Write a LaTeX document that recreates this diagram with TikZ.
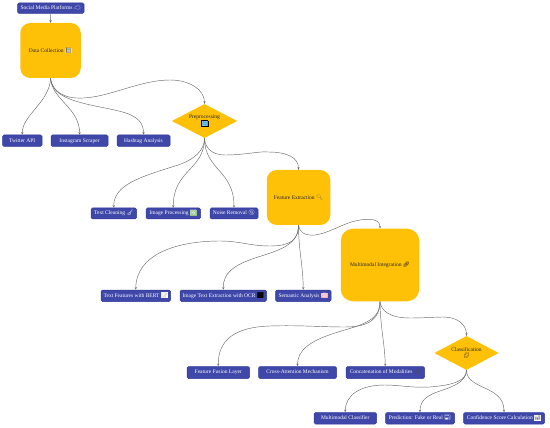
\documentclass[tikz,border=0pt]{standalone}
\usepackage{fontspec}
\setmainfont{Liberation Serif}
\newfontfamily\emo{Noto Emoji}
\usetikzlibrary{shapes.geometric,arrows.meta}
\definecolor{nodeblue}{HTML}{3F47A8}
\definecolor{nodeedge}{HTML}{2F3A9A}
\definecolor{amberfill}{HTML}{FFC107}
\definecolor{wirecol}{HTML}{6A6A6A}
\definecolor{icontan}{HTML}{E8D9B0}
\definecolor{iconblue}{HTML}{2E9BE0}
\definecolor{iconpink}{HTML}{F4A6B8}
\definecolor{icongreen}{HTML}{8FBF8A}
\tikzset{
 x=1pt,y=-1pt,
 leaf/.style={draw=nodeedge,line width=.5pt,fill=nodeblue,rounded corners=1.5pt,text=white,font=\fontsize{5.5}{6}\selectfont,inner sep=0pt,anchor=center,text height=3.9pt,text depth=1.2pt},
 big/.style={fill=amberfill,rounded corners=10pt,font=\fontsize{5.5}{6.5}\selectfont,text=black!85,inner sep=0pt,anchor=center},
 dia/.style={diamond,fill=amberfill,aspect=1.9,font=\fontsize{5.5}{6.5}\selectfont,text=black!85,inner sep=0pt,anchor=center,align=center},
 wire/.style={draw=wirecol,line width=.45pt,-{Stealth[length=2.6pt,width=2.4pt,open]}},
}
\newcommand{\leafnode}[6]{\node[leaf,minimum width=#4-#3,minimum height=#6-#5] (#1) at ({(#3+#4)/2},{(#5+#6)/2}) {#2};}
\newcommand{\mo}[2]{{\emo\color{#1}#2}}
\newcommand{\ic}[3]{{\setlength{\fboxsep}{0pt}\colorbox{#1}{\emo\color{#2}#3}}}
\newcommand{\icb}[3]{{\setlength{\fboxsep}{0pt}\setlength{\fboxrule}{.4pt}\fcolorbox{black}{#1}{\emo\color{#2}#3}}}
\begin{document}
\begin{tikzpicture}
\useasboundingbox (0,0) rectangle (550,428);
\leafnode{social}{Social Media Platforms \mo{white}{☁}}{17.5}{84}{3}{13.5}
\node[big,minimum width=60.5pt,minimum height=55pt] (data) at (50.5,50.5) {Data Collection \ic{icontan}{black!60}{📘}};
\leafnode{tw}{Twitter API}{2.5}{42}{135}{146.5}
\leafnode{ig}{Instagram Scraper}{51}{108}{135}{146.5}
\leafnode{ha}{Hashtag Analysis}{117}{170}{135}{146.5}
\node[dia,minimum width=65.5pt,minimum height=34pt] (pre) at (204.5,121) {Preprocessing\\[0pt]\icb{iconblue}{white!40!iconblue}{🔄}};
\leafnode{tc}{Text Cleaning \mo{white}{🧹}}{91}{136.5}{208}{219}
\leafnode{ip}{Image Processing \ic{icongreen}{white}{🖼}}{146}{200.5}{208}{219}
\leafnode{nr}{Noise Removal \mo{white}{🔇}}{210}{258}{208}{219}
\node[big,minimum width=63.5pt,minimum height=55pt] (fe) at (298.5,197.5) {Feature Extraction \mo{black!60}{🔍}};
\leafnode{tf}{Text Features with BERT \ic{white}{black!30}{📝}}{101}{170.5}{290}{301.5}
\leafnode{it}{Image Text Extraction with OCR \ic{black!80}{black}{🔠}}{180}{266.5}{290}{301.5}
\leafnode{sa}{Semantic Analysis \ic{iconpink}{white}{🧠}}{275.5}{331}{290}{301.5}
\node[big,minimum width=78.5pt,minimum height=72.5pt,rounded corners=12pt] (mm) at (380,265) {Multimodal Integration \mo{black}{🔗}};
\node[dia,minimum width=64.5pt,minimum height=34pt] (cl) at (466.5,353) {Classification\\[-.5pt]\mo{black}{🧩}};
\leafnode{ff}{Feature Fusion Layer}{187}{249.5}{366.5}{378.5}
\leafnode{ca}{Cross-Attention Mechanism}{258.5}{336.5}{366.5}{378.5}
\leafnode{co}{Concatenation of Modalities \mo{black!70}{🔗}}{346}{424.5}{366.5}{378.5}
\leafnode{mc}{Multimodal Classifier}{314}{376.5}{412.5}{424}
\leafnode{pr}{Prediction: Fake or Real \mo{white}{📰}}{385.5}{454.5}{412.5}{424}
\leafnode{cs}{Confidence Score Calculation \ic{white}{black!50}{📊}}{463.5}{544.5}{412.5}{424}
\draw[wire] (social.south) -- (data.north);
\draw[wire] (data.south) .. controls (50,102) and (22,115) .. (tw.north);
\draw[wire] (data.south) .. controls (52,100) and (80,108) .. (ig.north);
\draw[wire] (data.south) .. controls (52,95) and (70,101) .. (100,107) .. controls (125,112) and (143.5,115) .. (ha.north);
\draw[wire] (data.south) .. controls (52,92) and (65,99) .. (83,98) .. controls (110,97) and (140,80) .. (170,80) .. controls (190,80) and (204.5,90) .. (pre.north);
\draw[wire] (pre.south) .. controls (204.5,150) and (195,160) .. (175,166) .. controls (140,177) and (113.5,185) .. (tc.north);
\draw[wire] (pre.south) .. controls (204.5,170) and (173,170) .. (ip.north);
\draw[wire] (pre.south) .. controls (204.5,170) and (234,170) .. (nr.north);
\draw[wire] (pre.south) .. controls (205,148) and (212,155) .. (225,155) .. controls (245,155) and (260,151) .. (268,152) .. controls (288,152) and (298.5,158) .. (fe.north);
\draw[wire] (fe.south) .. controls (298.5,240) and (290,246) .. (270,246) .. controls (250,246) and (240,241) .. (220,241) .. controls (175,241) and (136,255) .. (tf.north);
\draw[wire] (fe.south) .. controls (298.5,245) and (280,250) .. (255,258) .. controls (235,265) and (223,272) .. (it.north);
\draw[wire] (fe.south) .. controls (298.5,250) and (303,265) .. (sa.north);
\draw[wire] (fe.south) .. controls (299,232) and (305,236) .. (315,235) .. controls (330,233) and (345,222) .. (360,220) .. controls (372,218) and (380,220) .. (mm.north);
\draw[wire] (mm.south) .. controls (380,318) and (370,327) .. (345,327) .. controls (320,327) and (300,325) .. (270,326) .. controls (235,327) and (218,340) .. (ff.north);
\draw[wire] (mm.south) .. controls (380,322) and (360,325) .. (335,333) .. controls (310,341) and (297.5,350) .. (ca.north);
\draw[wire] (mm.south) .. controls (380,325) and (385,345) .. (co.north);
\draw[wire] (mm.south) .. controls (381,311) and (390,318) .. (410,318) .. controls (425,318) and (435,317) .. (443,317) .. controls (458,317) and (466.5,325) .. (cl.north);
\draw[wire] (cl.south) .. controls (466.5,380) and (455,385) .. (430,387) .. controls (410,388) and (400,385) .. (385,385) .. controls (360,385) and (345.5,395) .. (mc.north);
\draw[wire] (cl.south) .. controls (466.5,382) and (452,387) .. (440,391) .. controls (428,395) and (420,400) .. (pr.north);
\draw[wire] (cl.south) .. controls (466.5,390) and (504,385) .. (cs.north);
\end{tikzpicture}
\end{document}
